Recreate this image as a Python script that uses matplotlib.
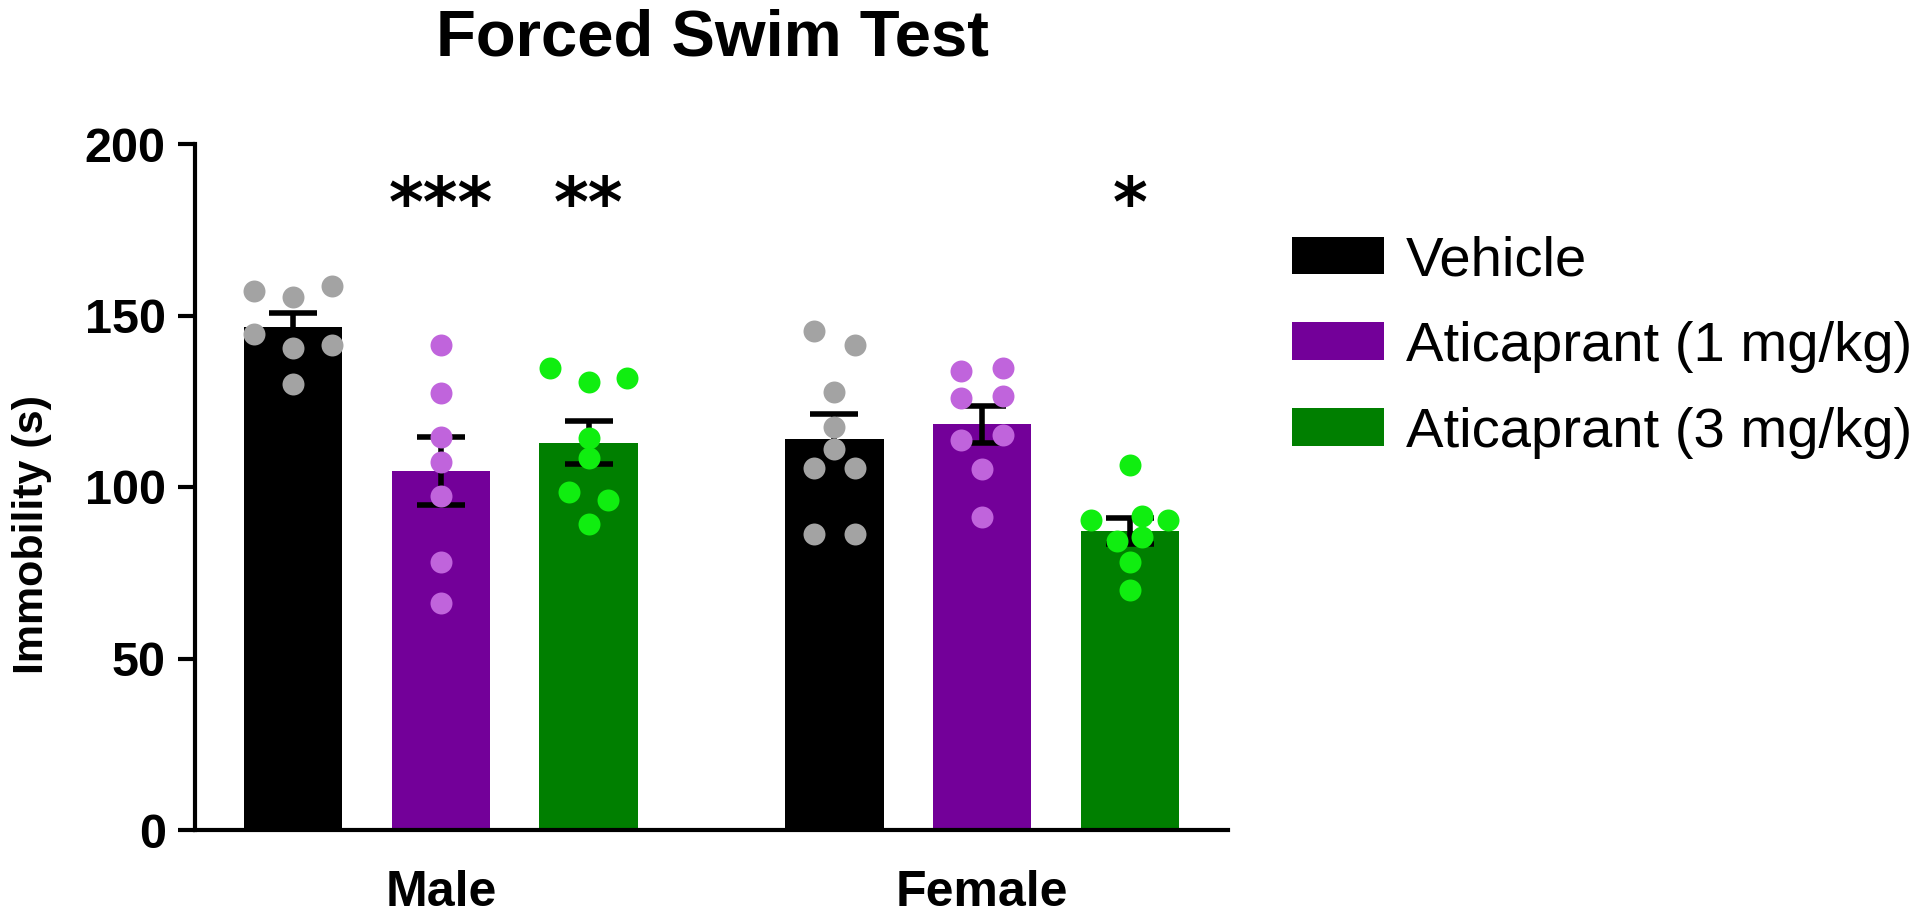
import matplotlib
matplotlib.use('Agg')
import matplotlib.pyplot as plt
from matplotlib.patches import Patch
import numpy as np

plt.rcParams['font.family'] = ['Liberation Sans', 'DejaVu Sans']

groups = ['Male', 'Female']
treatments = ['Vehicle', 'Aticaprant (1 mg/kg)', 'Aticaprant (3 mg/kg)']

# immobility per animal (s)
male_vehicle = [157, 155.5, 158.5, 144.5, 140.5, 141.5, 130]
male_ati1 = [141.5, 127.5, 114.6, 107.2, 97.3, 78.2, 66.3]
male_ati3 = [134.7, 130.6, 131.7, 114.3, 108.4, 98.6, 96.2, 89.1]
female_vehicle = [145.6, 141.5, 127.6, 117.4, 111.2, 105.4, 105.4, 86.4, 86.4]
female_ati1 = [133.7, 134.7, 125.9, 126.5, 113.6, 115.2, 105.2, 91.2]
female_ati3 = [106.5, 90.5, 91.4, 90.5, 84.4, 85.3, 78.2, 70.1]

stars = [['', '***', '**'], ['', '', '*']]

# sideways spread of the dots inside each bar (bar spacing units)
male_vehicle_dx = [-0.264, 0, 0.264, -0.264, 0, 0.264, 0]
male_ati1_dx = [0, 0, 0, 0, 0, 0, 0]
male_ati3_dx = [-0.26, 0, 0.26, 0, 0, -0.13, 0.13, 0]
female_vehicle_dx = [-0.14, 0.14, 0, 0, 0, -0.14, 0.14, -0.14, 0.14]
female_ati1_dx = [-0.14, 0.14, -0.14, 0.14, -0.14, 0.14, 0, 0]
female_ati3_dx = [0, -0.26, 0.085, 0.26, -0.085, 0.085, 0, 0]

data = [[male_vehicle, male_ati1, male_ati3],
        [female_vehicle, female_ati1, female_ati3]]
spread = [[male_vehicle_dx, male_ati1_dx, male_ati3_dx],
          [female_vehicle_dx, female_ati1_dx, female_ati3_dx]]

bar_colors = ['#000000', '#730099', '#007f00']
dot_colors = ['#a3a3a3', '#c064dc', '#10ee10']
group_gap = 3.665
bar_w = 0.665

fig = plt.figure(figsize=(19.2, 9.15), dpi=100)
ax = fig.add_axes([195/1920, 85/915, 1033/1920, 686/915])

for g in range(2):
    for t in range(3):
        vals = np.array(data[g][t])
        x = t + g*group_gap
        mean = vals.mean()
        sem = vals.std(ddof=1)/np.sqrt(len(vals))
        ax.bar(x, mean, width=bar_w, color=bar_colors[t], zorder=1)
        ax.errorbar(x, mean, yerr=sem, color='black', lw=4, capsize=17, capthick=4, zorder=2)
        ax.scatter(x + np.array(spread[g][t]), vals, s=250, color=dot_colors[t], lw=0, zorder=3)
        if stars[g][t]:
            ax.text(x, 176, stars[g][t], ha='center', va='baseline', fontsize=48,
                    fontweight='bold', family='DejaVu Sans')

ax.set_xlim(-0.665, 6.33)
ax.set_ylim(0, 200)
ax.set_yticks([0, 50, 100, 150, 200])
ax.set_xticks([1, 1 + group_gap], groups)
ax.tick_params(axis='y', length=12, width=3, pad=9, labelsize=35)
ax.tick_params(axis='x', length=0, pad=29, labelsize=36)
for lab in ax.get_yticklabels() + ax.get_xticklabels():
    lab.set_fontweight('bold')
for s in ['top', 'right']:
    ax.spines[s].set_visible(False)
for s in ['left', 'bottom']:
    ax.spines[s].set_linewidth(3)

fig.text(712/1920, 1 - 55/915, 'Forced Swim Test', ha='center', va='baseline',
         fontsize=47, fontweight='bold')
fig.text(32/1920, 1 - 535/915, 'Immobility (s)', rotation=90, ha='center', va='center',
         fontsize=31, fontweight='bold')

handles = [Patch(facecolor=c, edgecolor='none') for c in bar_colors]
fig.legend(handles, treatments, loc='center left', bbox_to_anchor=(1292/1920, 1 - 347/915),
           frameon=False, fontsize=40.5, handlelength=1.64, handleheight=0.66,
           handletextpad=0.39, labelspacing=0.6, borderaxespad=0, borderpad=0)

fig.savefig('out.png', dpi=100)
